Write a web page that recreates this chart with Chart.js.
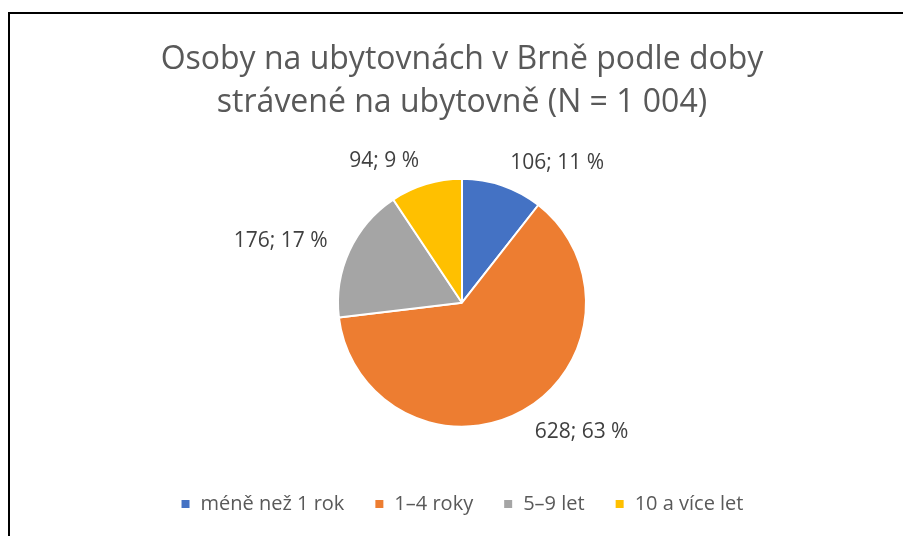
<!DOCTYPE html>
<html>
<head>
<meta charset="utf-8">
<script src="https://cdn.jsdelivr.net/npm/chart.js@4"></script>
<style>
  html, body { margin: 0; padding: 0; background: #fff; }
  #wrap { position: relative; width: 903px; height: 536px; overflow: hidden; }
  #frame { position: absolute; left: 8px; top: 12px; width: 1000px; height: 1000px;
           border-left: 2px solid #000; border-top: 2px solid #000; }
  canvas { position: absolute; left: 0; top: 0; }
</style>
</head>
<body>
<div id="wrap">
  <div id="frame"></div>
  <canvas id="pieChart" width="903" height="536"></canvas>
</div>
<script>
const categories = ['méně než 1 rok', '1–4 roky', '5–9 let', '10 a více let'];
const counts = [106, 628, 176, 94];
const percents = [11, 63, 17, 9];
const colors = ['#4472C4', '#ED7D31', '#A5A5A5', '#FFC000'];

// labels "n; p %" outside each slice
const outsideLabels = {
  id: 'outsideLabels',
  afterDatasetsDraw(chart) {
    const ctx = chart.ctx;
    const meta = chart.getDatasetMeta(0);
    ctx.save();
    ctx.font = '21px "Open Sans", sans-serif';
    ctx.fillStyle = '#404040';
    ctx.textBaseline = 'middle';
    meta.data.forEach((arc, i) => {
      const mid = (arc.startAngle + arc.endAngle) / 2;
      const d = arc.outerRadius + 24;
      const x = arc.x + Math.cos(mid) * d;
      const y = arc.y + Math.sin(mid) * d;
      ctx.textAlign = Math.cos(mid) >= 0 ? 'left' : 'right';
      ctx.fillText(counts[i] + '; ' + percents[i] + ' %', x, y);
    });
    ctx.restore();
  }
};

const ctx = document.getElementById('pieChart').getContext('2d');
new Chart(ctx, {
  type: 'pie',
  data: {
    labels: categories,
    datasets: [{
      data: counts,
      backgroundColor: colors,
      borderColor: '#fff',
      borderWidth: 2,
      radius: 124
    }]
  },
  options: {
    responsive: false,
    animation: false,
    layout: { padding: { left: 21, right: 0, top: 38, bottom: 12 } },
    plugins: {
      title: {
        display: true,
        text: ['Osoby na ubytovnách v Brně podle doby', 'strávené na ubytovně (N = 1 004)'],
        color: '#595959',
        font: { family: '"Open Sans", sans-serif', size: 32, weight: 'normal', lineHeight: 1.35 },
        padding: { top: 0, bottom: 17 }
      },
      legend: {
        position: 'bottom',
        labels: {
          color: '#595959',
          font: { family: '"Open Sans", sans-serif', size: 20 },
          boxWidth: 10,
          boxHeight: 10,
          padding: 30
        }
      },
      tooltip: { enabled: false }
    }
  },
  plugins: [outsideLabels]
});
</script>
</body>
</html>
